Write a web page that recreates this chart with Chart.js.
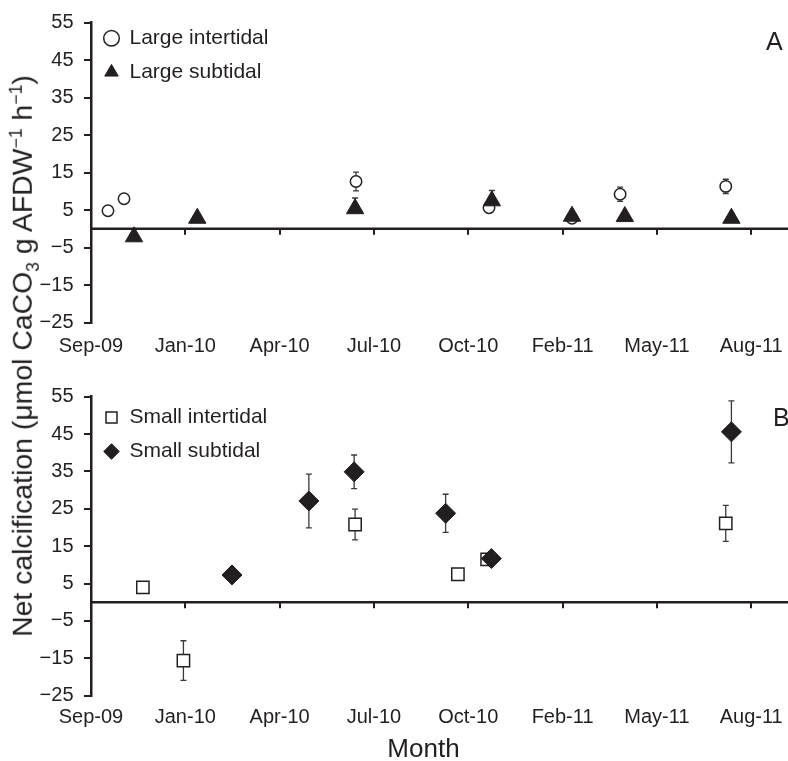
<!DOCTYPE html>
<html>
<head>
<meta charset="utf-8">
<script src="https://cdn.jsdelivr.net/npm/chart.js@4.4.1/dist/chart.umd.min.js"></script>
<style>
  html, body { margin: 0; padding: 0; background: #fff; }
  body { width: 788px; height: 761px; position: relative; overflow: hidden; font-family: "Liberation Sans", Arial, sans-serif; color: #231f20; }
  canvas { position: absolute; left: 0; }
  #chart-a { top: 0; }
  #chart-b { top: 374px; }
  .panel { position: absolute; font-size: 25px; line-height: 1; }
  #xtitle { position: absolute; left: 423.5px; top: 735px; font-size: 26px; line-height: 1; transform: translateX(-50%); }
  #ytitle { position: absolute; left: 22px; top: 356px; font-size: 28.4px; line-height: 1; white-space: nowrap; transform: translate(-50%, -50%) rotate(-90deg); }
  #ytitle sub, #ytitle sup { font-size: 0.62em; line-height: 0; }
</style>
</head>
<body>
<canvas id="chart-a" width="788" height="356"></canvas>
<canvas id="chart-b" width="788" height="387"></canvas>
<div id="ytitle">Net calcification (μmol CaCO<sub>3</sub> g AFDW<sup>−1</sup> h<sup>−1</sup>)</div>
<div id="xtitle">Month</div>
<div class="panel" style="left:766px; top:29px">A</div>
<div class="panel" style="left:773px; top:405px">B</div>
<script>
const ink = '#231f20';

// x axis: sampling months, one slot each
const monthLabels = ['Sep-09', 'Jan-10', 'Apr-10', 'Jul-10', 'Oct-10', 'Feb-11', 'May-11', 'Aug-11'];
const monthTicks = [0, 1, 2, 3, 4, 5, 6, 7];
const yTicks = [-25, -15, -5, 5, 15, 25, 35, 45, 55];

// panel A - large
const largeInterX = [0.18, 0.35, 2.81, 4.22, 5.10, 5.61, 6.73];
const largeInterY = [4.8, 8.0, 12.6, 5.6, 2.8, 9.2, 11.3];
const largeInterErr = [0.3, 0.3, 2.5, 0.5, 0.5, 1.9, 1.9];

const largeSubX = [0.456, 1.127, 2.80, 4.25, 5.10, 5.66, 6.79];
const largeSubY = [-2.15, 2.8, 5.35, 7.45, 3.35, 3.25, 2.8];
const largeSubErrUp = [0.5, 0.5, 2.85, 2.75, 0.8, 0.5, 0.5];
const largeSubErrDown = [0.5, 0.5, 0.5, 0.5, 0.5, 0.5, 0.5];

// panel B - small
const smallInterX = [0.55, 0.98, 2.80, 3.89, 4.20, 6.73];
const smallInterY = [4.0, -15.6, 20.8, 7.5, 11.5, 21.1];
const smallInterErr = [0.5, 5.3, 4.1, 1.5, 0.8, 4.8];

const smallSubX = [1.495, 2.31, 2.79, 3.76, 4.245, 6.79];
const smallSubY = [7.3, 27.1, 34.9, 23.8, 11.7, 45.6];
const smallSubErr = [1.7, 7.2, 4.5, 5.1, 1.0, 8.3];

const toPoints = (xs, ys) => xs.map((x, i) => ({ x, y: ys[i] }));

// zero line with month ticks + error bars, under the markers
const zeroAxisAndErrors = {
  id: 'zeroAxisAndErrors',
  beforeDatasetsDraw(chart) {
    const { ctx, chartArea, scales: { x, y } } = chart;
    const y0 = y.getPixelForValue(0);
    ctx.save();
    ctx.strokeStyle = ink;
    ctx.lineWidth = 2.5;
    ctx.beginPath();
    ctx.moveTo(chartArea.left, y0);
    ctx.lineTo(chartArea.right, y0);
    ctx.stroke();
    ctx.lineWidth = 2;
    ctx.beginPath();
    x.ticks.forEach((t) => {
      if (t.value === 0) return;
      const px = Math.round(x.getPixelForValue(t.value));
      ctx.moveTo(px, y0);
      ctx.lineTo(px, y0 + 6);
    });
    ctx.stroke();

    ctx.lineWidth = 1.3;
    ctx.strokeStyle = '#3a3a3a';
    chart.data.datasets.forEach((ds) => {
      ds.data.forEach((pt, i) => {
        const up = ds.errUp[i];
        const down = ds.errDown ? ds.errDown[i] : up;
        const px = x.getPixelForValue(pt.x);
        const top = y.getPixelForValue(pt.y + up);
        const bot = y.getPixelForValue(pt.y - down);
        ctx.beginPath();
        ctx.moveTo(px, top); ctx.lineTo(px, bot);
        ctx.moveTo(px - 3, top); ctx.lineTo(px + 3, top);
        ctx.moveTo(px - 3, bot); ctx.lineTo(px + 3, bot);
        ctx.stroke();
      });
    });
    ctx.restore();
  },
};

const drawPanel = (canvasId, datasets, opt) => {
  const ctx = document.getElementById(canvasId).getContext('2d');
  return new Chart(ctx, {
    type: 'scatter',
    data: { datasets },
    options: {
      responsive: false,
      animation: false,
      layout: { autoPadding: false, padding: { top: opt.padTop, left: 0, right: 0, bottom: opt.padBottom } },
      plugins: {
        tooltip: { enabled: false },
        legend: {
          position: 'chartArea',
          align: 'start',
          title: { display: true, text: '', padding: 0, font: { size: opt.legendDrop, lineHeight: 1 } },
          labels: {
            usePointStyle: true,
            boxWidth: 15,
            boxHeight: 11,
            padding: 13,
            color: ink,
            font: { size: 21 },
            sort: (a, b) => a.datasetIndex - b.datasetIndex,
          },
        },
      },
      scales: {
        x: {
          type: 'linear',
          min: 0,
          max: 7.39,
          afterBuildTicks: (scale) => { scale.ticks = monthTicks.map((v) => ({ value: v })); },
          afterFit: (scale) => { scale.paddingRight = 0; },
          grid: { display: false, drawTicks: true, tickLength: opt.tickGap },
          border: { display: false },
          ticks: {
            padding: 0, autoSkip: false, maxRotation: 0, color: ink,
            font: { size: 20, lineHeight: 1 },
            callback: (v, i) => monthLabels[i],
          },
        },
        y: {
          min: -25,
          max: 55,
          afterBuildTicks: (scale) => { scale.ticks = yTicks.map((v) => ({ value: v })); },
          afterFit: (scale) => { scale.width = 91; },
          grid: { drawOnChartArea: false, drawTicks: true, tickLength: 7, color: ink, lineWidth: 2 },
          border: { display: true, color: ink, width: 2.5 },
          ticks: {
            padding: 10.5, color: ink, font: { size: 20 },
            callback: (v) => (v < 0 ? '\u2212' + Math.abs(v) : String(v)),
          },
        },
      },
    },
    plugins: [zeroAxisAndErrors],
  });
};

drawPanel('chart-a', [
  {
    label: 'Large intertidal',
    data: toPoints(largeInterX, largeInterY),
    errUp: largeInterErr,
    order: 1,
    pointStyle: 'circle',
    pointRadius: 5.7,
    pointBorderWidth: 1.5,
    pointBackgroundColor: '#fff',
    pointBorderColor: ink,
    backgroundColor: '#fff',
    borderColor: ink,
  },
  {
    label: 'Large subtidal',
    data: toPoints(largeSubX, largeSubY),
    errUp: largeSubErrUp,
    errDown: largeSubErrDown,
    order: 0,
    pointStyle: 'triangle',
    pointRadius: 10,
    pointBorderWidth: 1,
    pointBackgroundColor: ink,
    pointBorderColor: ink,
    backgroundColor: ink,
    borderColor: ink,
  },
], { padTop: 16.5, padBottom: 0, tickGap: 13.5, legendDrop: 14.7 });

drawPanel('chart-b', [
  {
    label: 'Small intertidal',
    data: toPoints(smallInterX, smallInterY),
    errUp: smallInterErr,
    order: 1,
    pointStyle: 'rect',
    pointRadius: 8.7,
    pointBorderWidth: 1.5,
    pointBackgroundColor: '#fff',
    pointBorderColor: ink,
    backgroundColor: '#fff',
    borderColor: ink,
  },
  {
    label: 'Small subtidal',
    data: toPoints(smallSubX, smallSubY),
    errUp: smallSubErr,
    order: 0,
    pointStyle: 'rectRot',
    pointRadius: 10,
    pointBorderWidth: 1,
    pointBackgroundColor: ink,
    pointBorderColor: ink,
    backgroundColor: ink,
    borderColor: ink,
  },
], { padTop: 22.7, padBottom: 34, tickGap: 11.3, legendDrop: 20 });
</script>
</body>
</html>
